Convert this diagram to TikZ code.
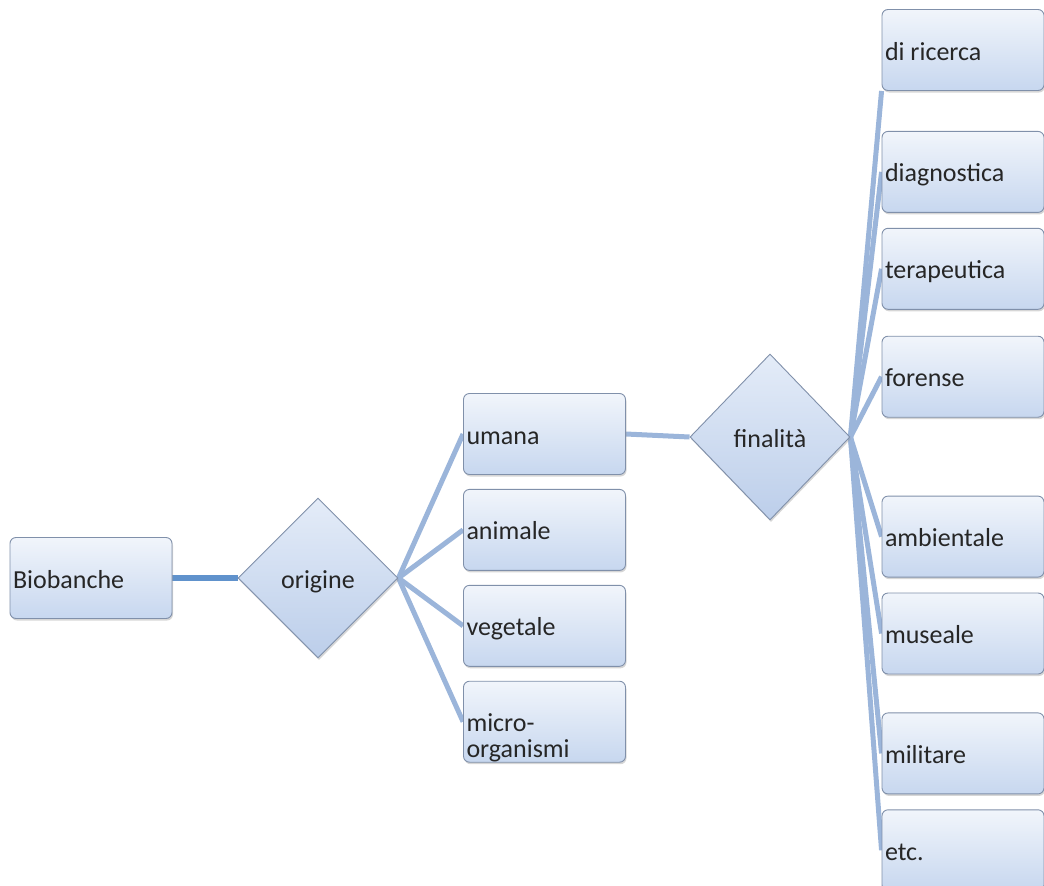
\documentclass[tikz,border=0pt]{standalone}
\usepackage{fontspec}
\setmainfont{Carlito}
\usetikzlibrary{positioning,shapes.geometric,shadows,backgrounds}
\definecolor{boxedge}{RGB}{128,144,170}
\definecolor{boxtop}{RGB}{241,245,251}
\definecolor{boxbottom}{RGB}{199,215,239}
\definecolor{diatop}{RGB}{228,236,248}
\definecolor{diabottom}{RGB}{188,206,234}
\definecolor{linkblue}{RGB}{155,181,218}
\definecolor{mainblue}{RGB}{96,146,204}

\begin{document}
\begin{tikzpicture}[x=1pt, y=-1pt,
  every node/.style={font=\fontsize{26}{26}\selectfont, text=black!85,
                     text height=20pt, text depth=0pt},
  block/.style={draw=boxedge, line width=0.9pt, rounded corners=6pt,
                top color=boxtop, bottom color=boxbottom,
                minimum width=162pt, minimum height=81pt,
                text width=156pt, inner xsep=3pt, align=flush left,
                drop shadow={shadow xshift=1pt, shadow yshift=-2pt,
                             fill=black!40, opacity=0.4}},
  choice/.style={diamond, draw=boxedge, line width=0.9pt,
                 top color=diatop, bottom color=diabottom,
                 minimum width=160pt, minimum height=160pt, inner sep=0pt,
                 align=center,
                 drop shadow={shadow xshift=1pt, shadow yshift=-2pt,
                              fill=black!40, opacity=0.4}},
  link/.style={linkblue, line width=5pt},
  mainlink/.style={mainblue, line width=6pt},
  node distance=14pt
]
\useasboundingbox (0,0) rectangle (1044,886);

% root and first choice
\node[block] (bio) at (91,578) {Biobanche};
\node[choice] (origine) at (318,578) {origine};

% origin column
\node[block] (umana) at (544.5,434) {umana};
\node[block, below=14pt of umana] (animale) {animale};
\node[block, below=14pt of animale] (vegetale) {vegetale};
\node[block, below=14pt of vegetale] (micro) {micro-\\organismi};

% second choice
\node[choice, minimum height=166pt] (finalita) at (770,437) {finalità};

% purpose column
\node[block] (ricerca) at (963,50) {di ricerca};
\node[block, below=40pt of ricerca] (diagnostica) {diagnostica};
\node[block, below=15pt of diagnostica] (terapeutica) {terapeutica};
\node[block, below=26pt of terapeutica] (forense) {forense};
\node[block, below=78pt of forense] (ambientale) {ambientale};
\node[block, below=15pt of ambientale] (museale) {museale};
\node[block, below=38pt of museale] (militare) {militare};
\node[block, below=15pt of militare] (etc) {etc.};

% connectors
\begin{scope}[on background layer]
  \draw[mainlink] (bio.east) -- (origine.west);
  \foreach \t in {umana,animale,vegetale,micro}
    \draw[link] (origine.east) -- (\t.west);
  \draw[link] (umana.east) -- (finalita.west);
  \draw[link] (finalita.east) -- (ricerca.south west);
  \foreach \t in {diagnostica,terapeutica,forense,ambientale,museale,militare,etc}
    \draw[link] (finalita.east) -- (\t.west);
\end{scope}
\end{tikzpicture}
\end{document}
